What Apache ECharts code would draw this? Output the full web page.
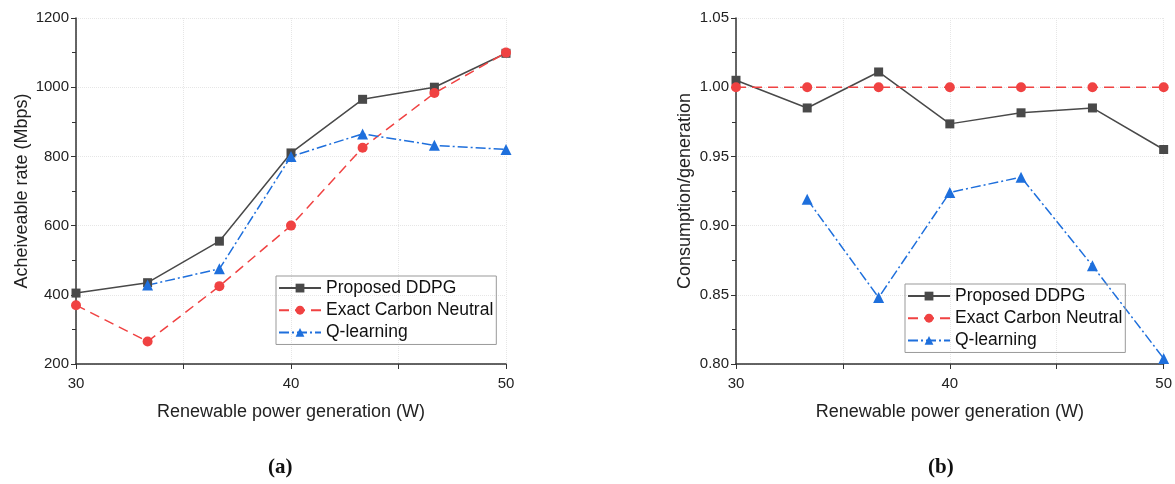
<body style="margin:0">
    <div id='main' style="width: 1175px; height: 484px;"></div>
</body>

<script src="https://cdn.jsdelivr.net/npm/echarts@6/dist/echarts.min.js"></script>
<script>
// x positions (W)
var xVals = [30, 33.33, 36.67, 40, 43.33, 46.67, 50];

// (a) achievable rate (Mbps)
var rateDDPG  = [405, 435, 555, 810, 965, 1000, 1098];
var rateExact = [370, 265, 425, 600, 825, 983, 1100];
var rateQ     = [null, 428, 475, 800, 865, 832, 820];

// (b) consumption / generation
var ratioDDPG  = [1.005, 0.985, 1.011, 0.9735, 0.9815, 0.985, 0.955];
var ratioExact = [1.0, 1.0, 1.0, 1.0, 1.0, 1.0, 1.0];
var ratioQ     = [null, 0.919, 0.848, 0.924, 0.935, 0.871, 0.804];

var names = ['Proposed DDPG', 'Exact Carbon Neutral', 'Q-learning'];

function pairs(ys) {
  var out = [];
  ys.forEach(function (y, i) {
    if (y !== null) out.push([xVals[i], y]);
  });
  return out;
}

var chartDom = document.getElementById('main');
var myChart = echarts.init(chartDom);
var font = 'Liberation Sans, Arial, sans-serif';

var styles = [
  { color: '#494949', symbol: 'rect', symbolSize: 9, type: 'solid' },
  { color: '#f04242', symbol: 'circle', symbolSize: 10, type: [10, 6] },
  { color: '#1e6fdc', symbol: 'triangle', symbolSize: 11, type: [10, 3, 2, 3] }
];

function mkSeries(data, k, gi) {
  var s = styles[k];
  return {
    name: names[k],
    type: 'line',
    xAxisIndex: gi,
    yAxisIndex: gi,
    symbol: s.symbol,
    symbolSize: s.symbolSize,
    showAllSymbol: true,
    itemStyle: { color: s.color },
    lineStyle: { color: s.color, width: 1.5, type: s.type },
    data: pairs(data)
  };
}

var gridLine = { show: true, lineStyle: { color: '#e6e6e6', type: 'dotted' } };

function xAxisCfg(gi) {
  return {
    type: 'value', gridIndex: gi, min: 30, max: 50, interval: 5,
    name: 'Renewable power generation (W)', nameLocation: 'middle', nameGap: 33,
    nameMoveOverlap: false,
    nameTextStyle: { fontFamily: font, fontSize: 18, color: '#222' },
    axisLine: { lineStyle: { color: '#333', width: 1.5 } },
    axisTick: { inside: false, length: 5, lineStyle: { color: '#333' } },
    axisLabel: {
      fontFamily: font, fontSize: 15, color: '#222', margin: 7,
      formatter: function (v) { return v % 10 === 0 ? v : ''; }
    },
    splitLine: gridLine
  };
}

function yAxisCfg(gi, min, max, interval, name, gap, fmt) {
  return {
    type: 'value', gridIndex: gi, min: min, max: max, interval: interval,
    name: name, nameLocation: 'middle', nameGap: gap,
    nameMoveOverlap: false,
    nameTextStyle: { fontFamily: font, fontSize: 18, color: '#222' },
    axisLine: { show: true, lineStyle: { color: '#333', width: 1.5 } },
    axisTick: { show: true, inside: false, length: 5, lineStyle: { color: '#333' } },
    minorTick: { show: true, splitNumber: 2, length: 4, lineStyle: { color: '#333' } },
    axisLabel: { fontFamily: font, fontSize: 15, color: '#222', margin: 7, formatter: fmt },
    splitLine: gridLine
  };
}

function legendCfg(left, top) {
  return {
    orient: 'vertical', left: left, top: top,
    data: names,
    itemWidth: 42, itemHeight: 11, itemGap: -8,
    padding: [-3, 3, -3, 2],
    borderColor: '#999', borderWidth: 1,
    textStyle: { fontFamily: font, fontSize: 17.5, color: '#111' }
  };
}

var captionStyle = { fontFamily: 'Liberation Serif, serif', fontSize: 21, fontWeight: 'bold', color: '#111' };

var option = {
  animation: false,
  backgroundColor: '#fff',
  title: [
    { text: '(a)', left: 263, top: 446, textStyle: captionStyle },
    { text: '(b)', left: 923, top: 446, textStyle: captionStyle }
  ],
  legend: [legendCfg(276, 276), legendCfg(905, 284)],
  grid: [
    { left: 76, top: 18, width: 430, height: 346 },
    { left: 736, top: 18, width: 430, height: 346 }
  ],
  xAxis: [xAxisCfg(0), xAxisCfg(1)],
  yAxis: [
    yAxisCfg(0, 200, 1200, 200, 'Acheiveable rate (Mbps)', 38,
      function (v) { return v; }),
    yAxisCfg(1, 0.80, 1.05, 0.05, 'Consumption/generation', 35,
      function (v) { return v.toFixed(2); })
  ],
  series: [
    mkSeries(rateDDPG, 0, 0),
    mkSeries(rateExact, 1, 0),
    mkSeries(rateQ, 2, 0),
    mkSeries(ratioDDPG, 0, 1),
    mkSeries(ratioExact, 1, 1),
    mkSeries(ratioQ, 2, 1)
  ]
};

option && myChart.setOption(option);
</script>
